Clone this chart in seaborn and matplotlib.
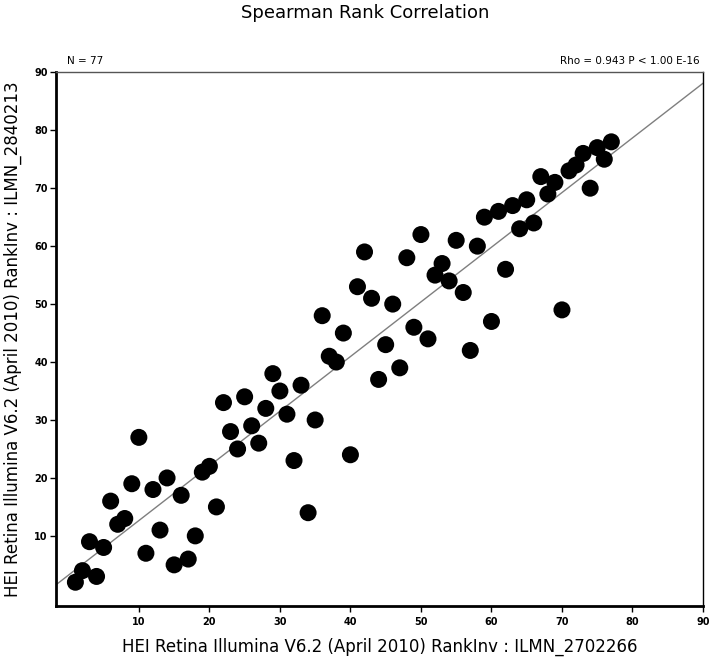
import numpy as np
import pandas as pd
import matplotlib
matplotlib.use("Agg")
import matplotlib.pyplot as plt
import seaborn as sns

# rank of ILMN_2702266 (x) against rank of ILMN_2840213 (y)
x_rank = list(range(1, 78))
y_rank = [2, 4, 9, 3, 8, 16, 12, 13, 19, 27,
          7, 18, 11, 20, 5, 17, 6, 10, 21, 22,
          15, 33, 28, 25, 34, 29, 26, 32, 38, 35,
          31, 23, 36, 14, 30, 48, 41, 40, 45, 24,
          53, 59, 51, 37, 43, 50, 39, 58, 46, 62,
          44, 55, 57, 54, 61, 52, 42, 60, 65, 47,
          66, 56, 67, 63, 68, 64, 72, 69, 71, 49,
          73, 74, 76, 70, 77, 75, 78]
ticks = [10, 20, 30, 40, 50, 60, 70, 80, 90]

x_label = "HEI Retina Illumina V6.2 (April 2010) RankInv : ILMN_2702266"
y_label = "HEI Retina Illumina V6.2 (April 2010) RankInv : ILMN_2840213"
left_note = "N = 77"
right_note = "Rho = 0.943 P < 1.00 E-16"

df = pd.DataFrame({"x": x_rank, "y": y_rank})

sns.set_style("ticks")
plt.rcParams["font.family"] = ["DejaVu Sans"]
plt.rcParams["text.color"] = "black"
plt.rcParams["axes.labelcolor"] = "black"
plt.rcParams["xtick.color"] = "black"
plt.rcParams["ytick.color"] = "black"

fig = plt.figure(figsize=(7.14, 6.59), dpi=100)
ax = fig.add_axes([56 / 714, 1 - 606 / 659, 647 / 714, (606 - 72.3) / 659])

ax.set_xlim(-1.75, 90)
ax.set_ylim(-2.1, 90)

# regression line across the whole axis
sns.regplot(data=df, x="x", y="y", ax=ax, scatter=False, ci=None, truncate=False,
            line_kws={"color": "#7f7f7f", "lw": 1.0})
sns.scatterplot(data=df, x="x", y="y", ax=ax, s=150, color="black",
                edgecolor="none", zorder=3)

ax.set_xlim(-1.75, 90)
ax.set_ylim(-2.1, 90)
ax.set_xticks(ticks)
ax.set_yticks(ticks)
ax.tick_params(axis="both", labelsize=7, length=4, width=1, color="black",
               labelcolor="black")
ax.tick_params(axis="x", pad=4)
ax.tick_params(axis="y", pad=2)
for lab in ax.get_xticklabels() + ax.get_yticklabels():
    lab.set_fontweight("bold")

for side in ["left", "bottom"]:
    ax.spines[side].set_linewidth(2)
    ax.spines[side].set_color("black")
ax.spines["top"].set_linewidth(1)
ax.spines["top"].set_color("#555555")
ax.spines["right"].set_linewidth(1)
ax.spines["right"].set_color("black")

ax.set_xlabel(x_label, fontsize=12, labelpad=8, color="black")
ax.set_ylabel(y_label, fontsize=12, labelpad=9, color="black")

narrow = ["Liberation Sans Narrow", "DejaVu Sans"]
ax.text(0.017, 1.012, left_note, transform=ax.transAxes, ha="left", va="bottom",
        fontsize=7.5, family=narrow, color="black")
ax.text(0.995, 1.012, right_note, transform=ax.transAxes, ha="right", va="bottom",
        fontsize=7.5, family=narrow, color="black")

fig.text(365 / 714, 1 - 13 / 659, "Spearman Rank Correlation", ha="center", va="center",
         fontsize=13, color="black")

fig.savefig("out.png", dpi=100)
